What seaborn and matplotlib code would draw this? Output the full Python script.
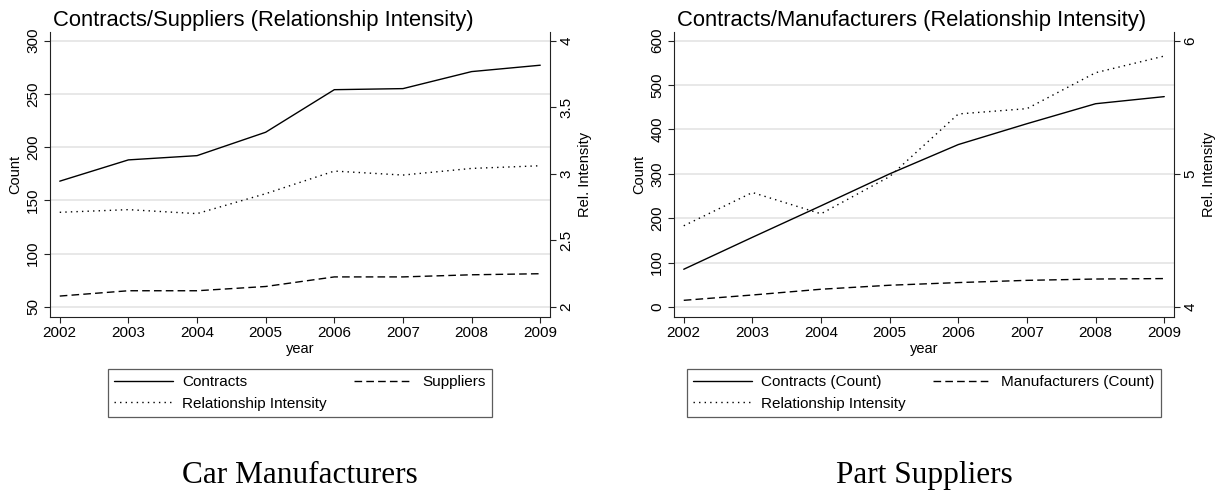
import matplotlib
matplotlib.use("Agg")
import matplotlib.pyplot as plt
import seaborn as sns

# ---- data -------------------------------------------------------------
years = [2002, 2003, 2004, 2005, 2006, 2007, 2008, 2009]

car_contracts = [168, 188, 192, 214, 254, 255, 271, 277]
car_suppliers = [60, 65, 65, 69, 78, 78, 80, 81]
car_intensity = [2.71, 2.73, 2.70, 2.85, 3.02, 2.99, 3.04, 3.06]

part_contracts = [85, 157, 228, 300, 366, 413, 458, 474]
part_manufacturers = [15, 27, 40, 49, 55, 60, 63, 64]
part_intensity = [4.61, 4.86, 4.70, 4.98, 5.45, 5.49, 5.76, 5.885]

car_count_ticks = [50, 100, 150, 200, 250, 300]
car_ratio_ticks = [2, 2.5, 3, 3.5, 4]
car_ratio_labels = ["2", "2.5", "3", "3.5", "4"]
part_count_ticks = [0, 100, 200, 300, 400, 500, 600]
part_ratio_ticks = [4, 5, 6]

# ---- style ------------------------------------------------------------
sns.set_theme(style="white")
plt.rcParams["font.family"] = ["Liberation Sans", "DejaVu Sans"]
plt.rcParams["text.color"] = "black"
plt.rcParams["axes.labelcolor"] = "black"
plt.rcParams["xtick.color"] = "black"
plt.rcParams["ytick.color"] = "black"

W, H = 1225, 491
fig = plt.figure(figsize=(W / 100, H / 100), dpi=100)

SOLID = "-"
DASHED = (0, (5.5, 3))
DOTTED = (0, (1, 3))
LW = 1.0
SPINE = "#222222"
GRID = "#e6e6e6"


def panel(left_px, title, contracts, second, intensity, count_lim, ratio_lim,
          count_ticks, ratio_ticks, ratio_labels, labels):
    ax = fig.add_axes([left_px / W, 1 - 316.7 / H, 500 / W, 285 / H])
    ax2 = ax.twinx()

    sns.lineplot(x=years, y=contracts, ax=ax, color="black", lw=LW,
                 linestyle=SOLID, label=labels[0], legend=False)
    sns.lineplot(x=years, y=second, ax=ax, color="black", lw=LW,
                 linestyle=DASHED, label=labels[1], legend=False)
    sns.lineplot(x=years, y=intensity, ax=ax2, color="black", lw=LW,
                 linestyle=DOTTED, label=labels[2], legend=False)

    ax.set_xlim(2002 - 0.142, 2009 + 0.142)
    ax.set_ylim(*count_lim)
    ax2.set_ylim(*ratio_lim)

    ax.set_xticks(years)
    ax.set_xticklabels([str(y) for y in years], fontsize=11)
    ax.set_yticks(count_ticks)
    ax.set_yticklabels([str(t) for t in count_ticks], fontsize=11,
                       rotation=90, va="center")
    ax2.set_yticks(ratio_ticks)
    ax2.set_yticklabels(ratio_labels, fontsize=11, rotation=90, va="center")

    ax.yaxis.grid(True, color=GRID, lw=1.3)
    ax.xaxis.grid(False)
    ax.set_axisbelow(True)

    for a in (ax, ax2):
        a.tick_params(length=4.5, width=0.8, color=SPINE, pad=2.5)
        a.spines["top"].set_visible(False)
        for s in a.spines.values():
            s.set_color(SPINE)
            s.set_linewidth(0.8)
    ax.spines["right"].set_visible(False)
    ax2.spines["left"].set_visible(False)
    ax2.spines["bottom"].set_visible(False)
    ax.tick_params(axis="x", bottom=True)
    ax.tick_params(axis="y", left=True)
    ax2.tick_params(axis="y", right=True)

    ax.set_xlabel("year", fontsize=10.5, labelpad=1)
    ax.set_ylabel("Count", fontsize=10.5, labelpad=3)
    ax2.set_ylabel("Rel. Intensity", fontsize=10.5, labelpad=3)

    fig.text((left_px + 3) / W, 1 - 26 / H, title, fontsize=15.8,
             ha="left", va="baseline")

    handles = [ax.get_lines()[0], ax2.get_lines()[0], ax.get_lines()[1]]
    names = [labels[0], labels[2], labels[1]]
    centre = (left_px + 250) / W
    leg = fig.legend(handles, names, loc="upper center",
                     bbox_to_anchor=(centre, 1 - 369 / H), ncol=2,
                     fontsize=11, frameon=True, fancybox=False,
                     handlelength=3.86, handletextpad=0.59,
                     columnspacing=1.77, labelspacing=0.5, borderpad=0.4,
                     borderaxespad=0)
    leg.get_frame().set_edgecolor("#333333")
    leg.get_frame().set_linewidth(0.9)
    return ax, ax2


panel(50, "Contracts/Suppliers (Relationship Intensity)",
      car_contracts, car_suppliers, car_intensity,
      (40.6, 308.5), (1.925, 4.068),
      car_count_ticks, car_ratio_ticks, car_ratio_labels,
      ["Contracts", "Suppliers", "Relationship Intensity"])

panel(674, "Contracts/Manufacturers (Relationship Intensity)",
      part_contracts, part_manufacturers, part_intensity,
      (-21.9, 620.3), (3.927, 6.068),
      part_count_ticks, part_ratio_ticks, [str(t) for t in part_ratio_ticks],
      ["Contracts (Count)", "Manufacturers (Count)", "Relationship Intensity"])

for x_px, caption in [(300, "Car Manufacturers"), (924, "Part Suppliers")]:
    fig.text(x_px / W, 1 - 483 / H, caption, fontsize=22.5,
             family=["Liberation Serif", "DejaVu Serif"],
             ha="center", va="baseline")

fig.savefig("out.png", dpi=100, facecolor="white")
